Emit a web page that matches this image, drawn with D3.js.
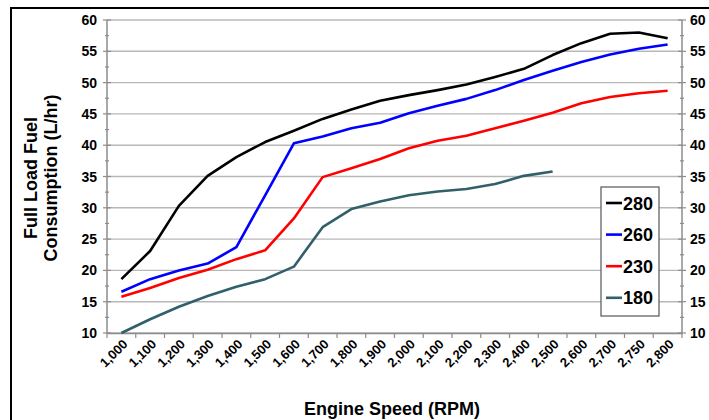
<!DOCTYPE html>
<html>
<head>
<meta charset="utf-8">
<script src="https://cdn.jsdelivr.net/npm/d3@7"></script>
<style>
  body { margin: 0; background: #fff; }
  text { font-family: "Liberation Sans", Arial, sans-serif; font-weight: bold; }
</style>
</head>
<body>
<div id="chart"></div>
<script>
// frame
const FRAME_WIDTH = 709;
const FRAME_HEIGHT = 420;
const MARGINS = {left: 107, right: 27, top: 20, bottom: 87};
const VIS_WIDTH = FRAME_WIDTH - MARGINS.left - MARGINS.right;
const VIS_HEIGHT = FRAME_HEIGHT - MARGINS.top - MARGINS.bottom;

// data
const rpm = ["1,000", "1,100", "1,200", "1,300", "1,400", "1,500", "1,600", "1,700",
  "1,800", "1,900", "2,000", "2,100", "2,200", "2,300", "2,400", "2,500",
  "2,600", "2,700", "2,750", "2,800"];
const series_names = ["280", "260", "230", "180"];
const fuel_280 = [18.6, 23.1, 30.3, 35.1, 38.1, 40.5, 42.3, 44.2, 45.7, 47.1, 48.0, 48.8,
  49.7, 50.9, 52.2, 54.4, 56.3, 57.8, 58.0, 57.1];
const fuel_260 = [16.6, 18.6, 20.0, 21.1, 23.7, 32.0, 40.3, 41.4, 42.7, 43.6, 45.1, 46.3,
  47.4, 48.8, 50.4, 51.9, 53.3, 54.5, 55.4, 56.1];
const fuel_230 = [15.8, 17.2, 18.8, 20.1, 21.8, 23.2, 28.3, 34.9, 36.3, 37.8, 39.5, 40.7,
  41.5, 42.7, 43.9, 45.2, 46.7, 47.7, 48.3, 48.7];
const fuel_180 = [10.0, 12.2, 14.2, 15.9, 17.4, 18.6, 20.6, 26.9, 29.8, 31.0, 32.0, 32.6,
  33.0, 33.8, 35.1, 35.8];
const y_ticks = [10, 15, 20, 25, 30, 35, 40, 45, 50, 55, 60];
const colors = ["#000000", "#0000ff", "#ff0000", "#31606a"];
const all_series = [fuel_280, fuel_260, fuel_230, fuel_180];

const FRAME = d3.select("#chart")
  .append("svg")
    .attr("width", FRAME_WIDTH)
    .attr("height", FRAME_HEIGHT);

// outer chart border (runs off the right / bottom of the crop)
FRAME.append("rect")
  .attr("x", 11).attr("y", 8)
  .attr("width", 760).attr("height", 460)
  .attr("fill", "none")
  .attr("stroke", "#000")
  .attr("stroke-width", 2);

const x_scale = d3.scaleBand()
  .domain(rpm)
  .range([MARGINS.left, MARGINS.left + VIS_WIDTH]);

const y_scale = d3.scaleLinear()
  .domain([10, 60])
  .range([MARGINS.top + VIS_HEIGHT, MARGINS.top]);

// gridlines
FRAME.append("g")
  .selectAll("line")
  .data(y_ticks)
  .enter()
  .append("line")
    .attr("x1", MARGINS.left)
    .attr("x2", MARGINS.left + VIS_WIDTH)
    .attr("y1", d => y_scale(d))
    .attr("y2", d => y_scale(d))
    .attr("stroke", "#b8b8b8")
    .attr("stroke-width", 1.4);

// y axes, left and right
const minor = d3.range(12.5, 60, 5);

function yAxis(side) {
  const x0 = side === "left" ? MARGINS.left : MARGINS.left + VIS_WIDTH;
  const g = FRAME.append("g");
  g.append("line")
    .attr("x1", x0).attr("x2", x0)
    .attr("y1", y_scale(60)).attr("y2", y_scale(10))
    .attr("stroke", "#8c8c8c").attr("stroke-width", 1.5);
  g.selectAll(".major")
    .data(y_ticks)
    .enter()
    .append("line")
      .attr("x1", x0 - 4).attr("x2", x0 + 4)
      .attr("y1", d => y_scale(d)).attr("y2", d => y_scale(d))
      .attr("stroke", "#8c8c8c").attr("stroke-width", 1.2);
  g.selectAll(".minor")
    .data(minor)
    .enter()
    .append("line")
      .attr("x1", x0 - 2).attr("x2", x0 + 2)
      .attr("y1", d => y_scale(d)).attr("y2", d => y_scale(d))
      .attr("stroke", "#8c8c8c").attr("stroke-width", 1.2);
  g.selectAll("text")
    .data(y_ticks)
    .enter()
    .append("text")
      .attr("x", side === "left" ? x0 - 10 : x0 + 8)
      .attr("y", d => y_scale(d) + 5)
      .attr("text-anchor", side === "left" ? "end" : "start")
      .attr("font-size", "14px")
      .text(d => d);
}
yAxis("left");
yAxis("right");

// x axis
const xg = FRAME.append("g")
  .attr("transform", "translate(0," + (MARGINS.top + VIS_HEIGHT) + ")")
  .call(d3.axisBottom(x_scale).tickSize(0).tickFormat(""));
xg.select(".domain").attr("stroke", "#8c8c8c").attr("stroke-width", 1.5);
xg.selectAll(".bound")
  .data(rpm.concat(["end"]))
  .enter()
  .append("line")
    .attr("x1", (d, i) => MARGINS.left + i * x_scale.bandwidth())
    .attr("x2", (d, i) => MARGINS.left + i * x_scale.bandwidth())
    .attr("y1", 0).attr("y2", 5)
    .attr("stroke", "#8c8c8c").attr("stroke-width", 1.2);
xg.selectAll(".lbl")
  .data(rpm)
  .enter()
  .append("text")
    .attr("transform", d => "translate(" + (x_scale(d) + x_scale.bandwidth() / 2 + 7) + ",12) rotate(-45)")
    .attr("text-anchor", "end")
    .attr("font-size", "13px")
    .attr("fill", "#000")
    .text(d => d);

// lines
const line = d3.line()
  .x((d, i) => x_scale(rpm[i]) + x_scale.bandwidth() / 2)
  .y(d => y_scale(d));

FRAME.append("g")
  .selectAll("path")
  .data(all_series)
  .enter()
  .append("path")
    .attr("d", d => line(d))
    .attr("fill", "none")
    .attr("stroke", (d, i) => colors[i])
    .attr("stroke-width", 2.6)
    .attr("stroke-linejoin", "round");

// axis titles
FRAME.append("text")
  .attr("x", 392).attr("y", 415)
  .attr("text-anchor", "middle")
  .attr("font-size", "18px")
  .text("Engine Speed (RPM)");

FRAME.append("text")
  .attr("transform", "translate(37,178) rotate(-90)")
  .attr("text-anchor", "middle")
  .attr("font-size", "18px")
  .text("Full Load Fuel");
FRAME.append("text")
  .attr("transform", "translate(57,178) rotate(-90)")
  .attr("text-anchor", "middle")
  .attr("font-size", "18px")
  .text("Consumption (L/hr)");

// legend
const legend = FRAME.append("g");
legend.append("rect")
  .attr("x", 601).attr("y", 187)
  .attr("width", 58).attr("height", 129)
  .attr("fill", "#fff")
  .attr("stroke", "#555")
  .attr("stroke-width", 1.2);
series_names.forEach((name, i) => {
  const cy = 203 + i * 31.6;
  legend.append("line")
    .attr("x1", 606).attr("x2", 622)
    .attr("y1", cy).attr("y2", cy)
    .attr("stroke", colors[i])
    .attr("stroke-width", 2.6);
  legend.append("text")
    .attr("x", 623).attr("y", cy + 6.5)
    .attr("font-size", "18px")
    .text(name);
});
</script>
</body>
</html>
